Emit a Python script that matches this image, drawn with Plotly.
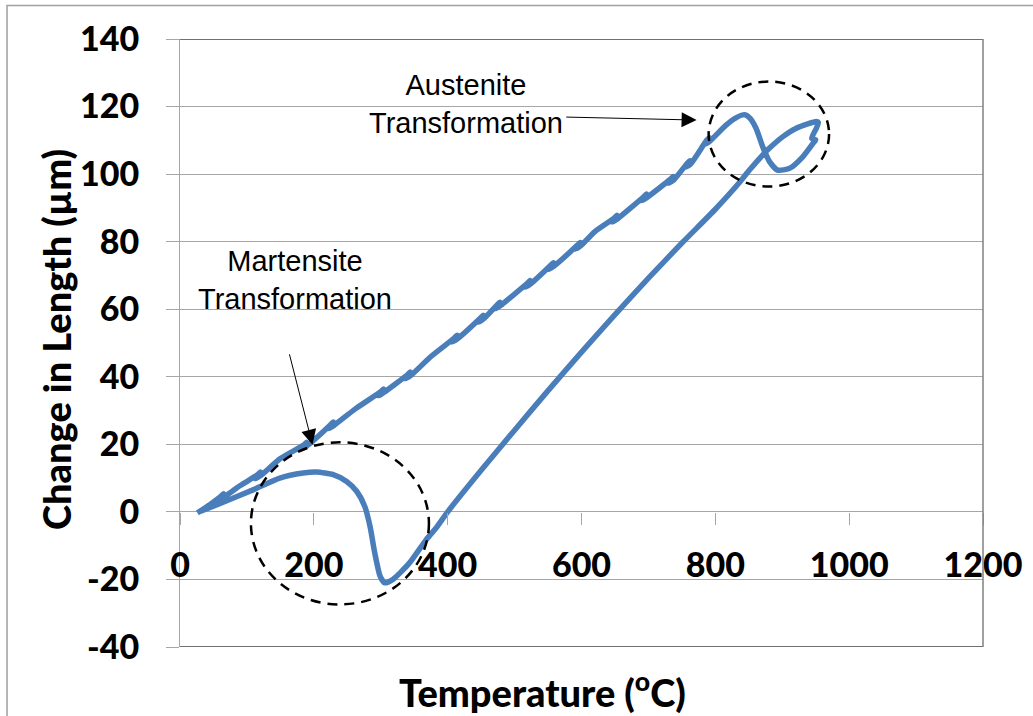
import plotly.graph_objects as go

# Dilatometer curve: heating then cooling (temperature in °C, change in length in µm)
heat_temp = [26, 45, 61, 65, 58, 66, 90, 116, 120, 113, 121, 150, 185, 189, 182, 190,
             225, 229, 222, 230, 262, 300, 304, 297, 305, 340, 344, 337, 345, 375,
             410, 414, 407, 415, 449, 453, 446, 454, 474, 478, 471, 479, 519, 523, 516, 524,
             554, 558, 551, 559, 594, 598, 591, 599, 620, 649, 653, 646, 654,
             693, 697, 690, 698, 733, 737, 730, 738, 758, 762, 755, 763,
             787, 791, 784, 792, 816, 832, 844, 852, 861, 871, 881, 893, 911, 931,
             946, 950, 944, 951, 954, 951]
heat_dl = [-0.3, 2.2, 4.6, 5.4, 3.4, 4.4, 7.8, 11.0, 11.8, 9.8, 10.8, 15.8, 19.8, 20.6, 18.6, 19.6,
           25.8, 26.6, 24.6, 25.6, 30.5, 35.6, 36.4, 34.4, 35.4, 40.6, 41.4, 39.4, 40.4, 46.0,
           51.5, 52.3, 50.3, 51.3, 57.4, 58.2, 56.2, 57.2, 61.3, 62.1, 60.1, 61.1, 67.7, 68.5, 66.5, 67.5,
           73.0, 73.8, 71.8, 72.8, 79.0, 79.8, 77.8, 78.8, 83.0, 87.0, 87.8, 85.8, 86.8,
           93.3, 94.1, 92.1, 93.1, 98.5, 99.3, 97.3, 98.3, 103.2, 104.0, 102.0, 103.0,
           110.0, 110.8, 108.8, 109.8, 114.5, 116.8, 117.6, 116.5, 113.5, 108.0, 103.7, 101.2, 101.7, 105.2,
           109.1, 110.2, 110.6, 113.6, 115.3, 115.6]

cool_temp = [921, 901, 881, 871, 851, 836, 800, 750, 700, 650, 600, 550, 500, 450, 400,
             383, 368, 343, 318, 306, 299, 291, 284, 276, 264, 249, 229, 204, 184,
             149, 110, 60, 31]
cool_dl = [113.6, 111.1, 107.7, 105.7, 101.2, 97.5, 89.6, 79.6, 69.2, 58.4, 47.3, 35.9, 24.2, 12.3, 0.0,
           -4.7, -8.2, -15.1, -20.0, -21.0, -19.0, -12.1, -4.3, 1.7, 6.1, 9.0, 11.0, 11.8, 11.5,
           10.0, 6.6, 2.5, 0.2]

x_ticks = [0, 200, 400, 600, 800, 1000, 1200]
y_ticks = [-40, -20, 0, 20, 40, 60, 80, 100, 120, 140]

# Highlight ellipses (data coords) and annotation arrows
mart_circle = dict(x0=106, x1=372, y0=-27.4, y1=20.6)
aust_circle = dict(x0=790, x1=970, y0=96.3, y1=127.4)
aust_arrow = dict(x=772, y=116.0, ax=575, ay=116.9)
mart_arrow = dict(x=198, y=19.9, ax=163, ay=47.1)

temp = heat_temp + cool_temp
dl = heat_dl + cool_dl

BLUE = "#4A7EBB"
GRID = "#a6a6a6"
TICKFONT = dict(family="Lato", size=34, color="black", weight=900)

fig = go.Figure()
fig.add_trace(go.Scatter(x=temp, y=dl, mode="lines",
                         line=dict(color=BLUE, width=5.5, shape="spline", smoothing=0.6),
                         showlegend=False, hoverinfo="skip"))

fig.update_layout(
    width=1033, height=716,
    margin=dict(l=180, r=50, t=39, b=69),
    paper_bgcolor="white", plot_bgcolor="white",
    showlegend=False,
    xaxis=dict(range=[0, 1200], tickvals=x_ticks, ticktext=[str(v) for v in x_ticks],
               anchor="free", position=40 / 180, showgrid=False, zeroline=False,
               showline=False, ticks="outside", ticklen=12, tickcolor=GRID, tickwidth=1,
               tickfont=TICKFONT, ticklabelstandoff=11),
    yaxis=dict(range=[-40, 140], tickvals=y_ticks, ticktext=[str(v) for v in y_ticks],
               showgrid=True, gridcolor=GRID, gridwidth=1, zeroline=False,
               showline=True, linecolor=GRID, linewidth=1,
               ticks="outside", ticklen=13, tickcolor=GRID, tickwidth=1,
               tickfont=TICKFONT, ticklabelstandoff=20),
)

shapes = [
    # top & bottom frame lines (dark), right frame (gray)
    dict(type="line", xref="paper", yref="y", x0=0, x1=1, y0=140, y1=140,
         line=dict(color="#404040", width=1.5)),
    dict(type="line", xref="paper", yref="y", x0=0, x1=1, y0=-40, y1=-40,
         line=dict(color="#404040", width=1.5)),
    dict(type="line", xref="paper", yref="paper", x0=1, x1=1, y0=0, y1=1,
         line=dict(color="#808080", width=1.5)),
    # outer chart border
    dict(type="rect", xref="paper", yref="paper", x0=-0.2154, x1=1.2, y0=-0.3, y1=1.0553,
         line=dict(color="#a0a0a0", width=1.5), layer="below"),
    # dashed ellipses
    dict(type="circle", xref="x", yref="y", **mart_circle,
         line=dict(color="black", width=2.5, dash="10px,7px")),
    dict(type="circle", xref="x", yref="y", **aust_circle,
         line=dict(color="black", width=2.5, dash="10px,7px")),
]
fig.update_layout(shapes=shapes)

TITLEFONT = dict(family="Lato", size=38, color="black", weight=900)
anns = [
    dict(xref="paper", yref="paper", x=-0.1544, y=0.505, text="Change in Length (µm)",
         textangle=-90, showarrow=False, xanchor="center", yanchor="middle",
         font=TITLEFONT),
    dict(xref="paper", yref="paper", x=0.452, y=-0.0702, text="Temperature (<sup>o</sup>C)",
         showarrow=False, xanchor="center", yanchor="middle",
         font=TITLEFONT),
    dict(xref="paper", yref="paper", x=0.356, y=0.8927, text="Austenite<br>Transformation",
         showarrow=False, xanchor="center", yanchor="middle",
         font=dict(family="Liberation Sans", size=29, color="black")),
    dict(xref="paper", yref="paper", x=0.1426, y=0.6035, text="Martensite<br>Transformation",
         showarrow=False, xanchor="center", yanchor="middle",
         font=dict(family="Liberation Sans", size=29, color="black")),
    dict(xref="x", yref="y", axref="x", ayref="y", x=aust_arrow["x"], y=aust_arrow["y"],
         ax=aust_arrow["ax"], ay=aust_arrow["ay"], text="", showarrow=True,
         arrowhead=2, arrowsize=3, arrowwidth=1, arrowcolor="black"),
    dict(xref="x", yref="y", axref="x", ayref="y", x=mart_arrow["x"], y=mart_arrow["y"],
         ax=mart_arrow["ax"], ay=mart_arrow["ay"], text="", showarrow=True,
         arrowhead=2, arrowsize=3, arrowwidth=1, arrowcolor="black"),
]
fig.update_layout(annotations=anns)

fig.write_html("out.html")
